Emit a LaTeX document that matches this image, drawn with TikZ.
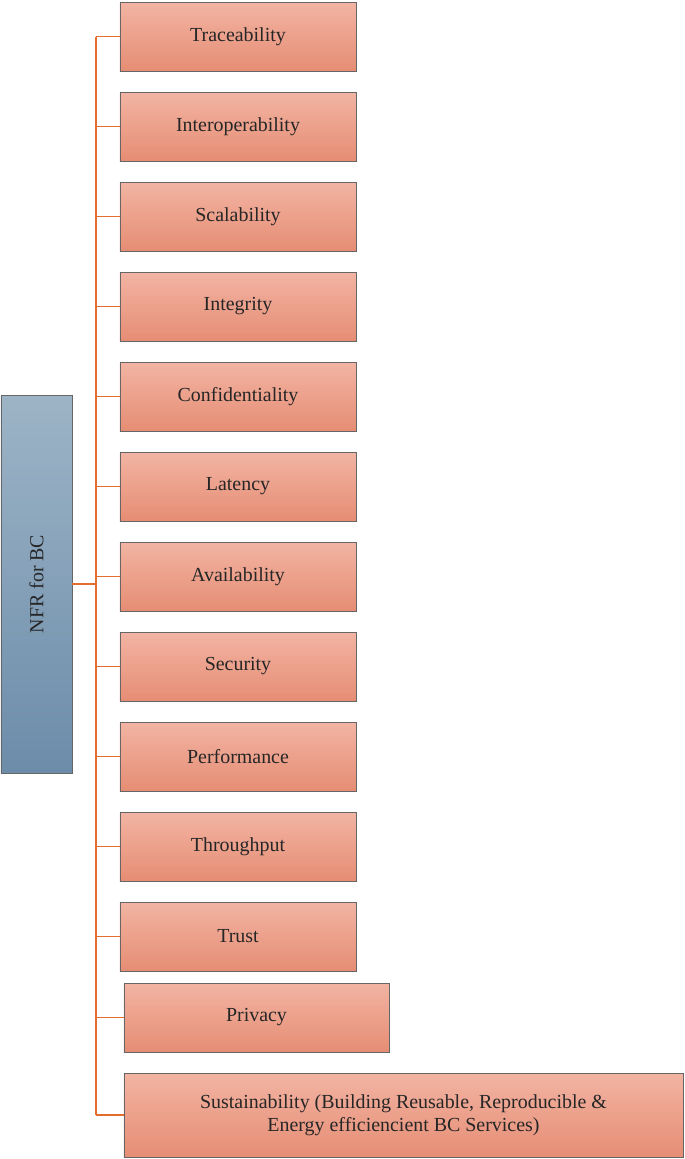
\documentclass[tikz,border=0pt]{standalone}
\usepackage{fontspec}
\setmainfont{Liberation Serif}
\begin{document}
\begin{tikzpicture}[x=1bp,y=-1bp,
 box/.style={draw=black!60,line width=0.8bp,top color=boxtop,bottom color=boxbot,inner sep=0pt,font=\fontsize{20}{23}\selectfont,text=black!85,align=center},
 con/.style={draw=lineor,line width=1.8bp}]
\definecolor{boxtop}{HTML}{F2B4A3}
\definecolor{boxbot}{HTML}{E68D74}
\definecolor{lineor}{HTML}{E46C2C}
\definecolor{ntop}{HTML}{9DB4C6}
\definecolor{nbot}{HTML}{6C8CAA}
\useasboundingbox (0,0) rectangle (685,1159);
\node[draw=black!60,line width=0.8bp,top color=ntop,bottom color=nbot,minimum width=71bp,minimum height=378bp,inner sep=0pt] (root) at (36.5,584) {};
\node[rotate=90,font=\fontsize{20}{23}\selectfont,text=black!85] (rl) at (root.center) {NFR for BC};
\foreach \n/\t [count=\i from 0] in {a/Traceability,b/Interoperability,c/Scalability,d/Integrity,e/Confidentiality,f/Latency,g/Availability,h/Security,i/Performance,j/Throughput,k/Trust}{
 \node[box,minimum width=236bp,minimum height=69bp] (\n) at (238,36.5+90*\i) {\t};
}
\node[box,minimum width=265bp,minimum height=69bp] (l) at (256.5,1017.5) {Privacy};
\node[box,minimum width=559bp,minimum height=84bp] (m) at (403.5,1115) {Sustainability (Building Reusable, Reproducible \&\\Energy efficiencient BC Services)};
\coordinate (top) at (96,36.5);
\coordinate (bot) at (96,1115);
\draw[con] (top) -- (bot);
\draw[con] (root.east) -- (root.east -| top);
\foreach \n in {a,b,c,d,e,f,g,h,i,j,k,l,m}{\draw[con] (\n.west) -- (\n.west -| top);}
\end{tikzpicture}
\end{document}
